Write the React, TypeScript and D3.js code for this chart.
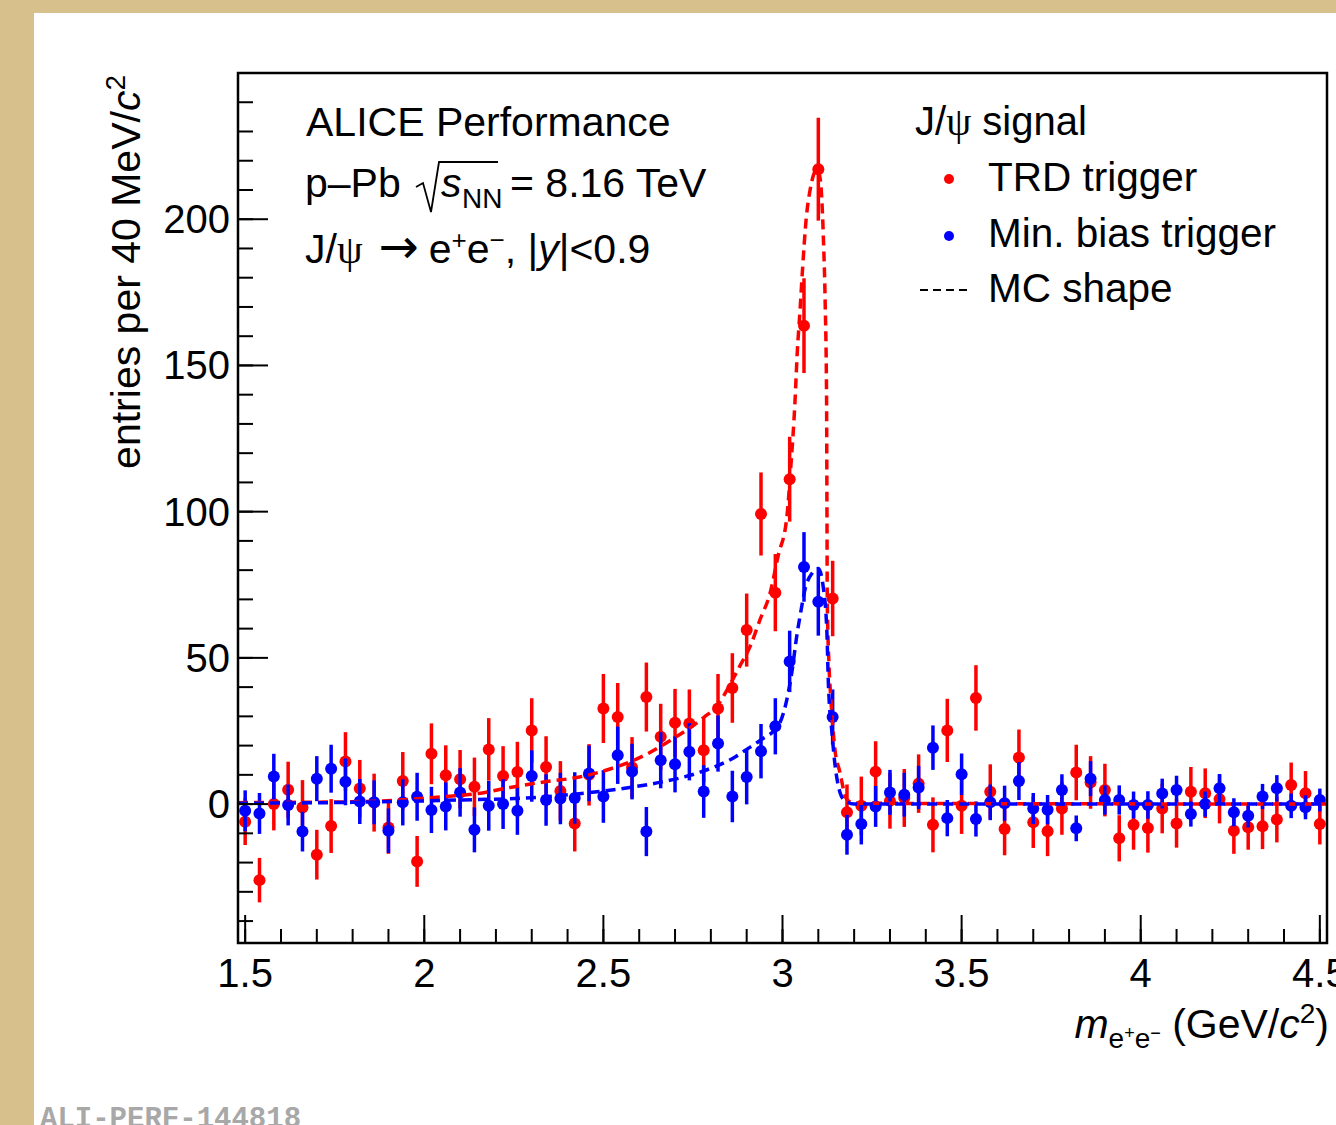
import React from 'react';
import * as d3 from 'd3';

// invariant mass histogram, 40 MeV bins from 1.48 to 4.52 GeV/c2
const BIN_LO = 1.48;
const BIN_W = 0.04;

// TRD triggered sample (red)
const trdCounts = [
  -6, -26, 0, 4.9, -1.2, -17.3, -7.5, 14.6, 5.3, 0.5,
  -8, 7.9, -19.6, 17.2, 9.9, 8.5, 5.9, 18.7, 9.6, 11,
  25.2, 12.7, 4.5, -6.6, 10, 32.7, 29.8, 12.5, 36.6, 23,
  27.8, 27.6, 18.4, 32.7, 39.7, 59.5, 99.2, 72.3, 111.1, 163.6,
  217.1, 70.3, -2.8, -0.6, 11.1, 1.1, 2.1, 7, -7.1, 25.2,
  -0.6, 36.3, 4.2, -8.5, 15.9, -6.2, -9.3, -1.5, 10.8, 7.4,
  4.8, -11.7, -7.1, -8.2, -1.5, -6.6, 4.2, 3.7, 1.7, -9.1,
  -7.9, -7.6, -5.3, 6.5, 3.7, -6.8,
];
const trdErrors = [
  8, 7.6, 9, 9.6, 9.4, 8.5, 9.2, 10, 9.8, 9.9,
  9, 9.9, 8.7, 10.4, 10.2, 10, 10, 10.7, 10.2, 10.3,
  11, 10.5, 10.2, 9.6, 10.5, 11.8, 11.6, 10.4, 11.8, 11.3,
  11.6, 11.6, 10.9, 11.8, 11.9, 12.5, 14.2, 13.2, 14.5, 16.2,
  17.6, 12.9, 9.5, 10, 10.4, 9.5, 9.9, 10, 9.4, 10.8,
  9.6, 11.2, 9.4, 9, 9.6, 8.8, 8.5, 9, 9.5, 9,
  9, 7.9, 8.5, 8.4, 8.5, 8.3, 8.5, 8.5, 8.3, 7.9,
  7.7, 7.8, 7.8, 7.7, 7.6, 7,
];

// minimum bias sample (blue)
const mbCounts = [
  -2.3, -3.2, 9.4, -0.3, -9.4, 8.7, 12.1, 7.6, 0.9, 0.6,
  -9.1, 0.6, 2.5, -2, -0.8, 4, -8.8, -0.6, 0, -2.3,
  9.6, 1.4, 1.9, 2.1, 10.5, 2.6, 16.7, 11.1, -9.4, 15,
  13.6, 17.9, 4.3, 20.7, 2.6, 9.3, 18.1, 26.6, 48.8, 81.1,
  69.2, 29.8, -10.5, -6.8, -0.8, 4, 3.2, 5.7, 19.3, -4.8,
  10.2, -5.1, 0.6, 0.3, 7.9, -1.5, -1.9, 4.8, -8.3, 8.7,
  1.4, 1.4, -0.3, -0.3, 3.6, 4.8, -3.4, 0, 5.4, -2.8,
  -4, 2.6, 5.4, -0.6, -1.1, 1.4,
];
const mbErrors = [
  7, 7, 7.8, 7, 6.8, 7.7, 8.2, 8, 7.7, 7.5,
  7.6, 7.9, 8.2, 7.9, 8.2, 8.3, 7.7, 8.5, 8.5, 8.2,
  8.8, 8.8, 8.8, 8.8, 9.5, 9, 9.8, 9.5, 8.4, 9.6,
  9.6, 9.8, 9, 9.6, 8.8, 9.4, 9.3, 9.6, 10.5, 11.9,
  11.6, 9.4, 6.8, 7, 7, 7.7, 7.5, 7.4, 7.6, 6.2,
  7.1, 6, 6.1, 6, 6.5, 5.3, 5, 5.4, 4.4, 6,
  5, 5, 4.6, 4.7, 5.1, 4.9, 4.3, 4.3, 4.9, 4.8,
  4, 4.3, 4.5, 4.2, 4.1, 3.9,
];

// MC line shapes
const trdMcMass = [
  1.48, 1.8, 1.97, 2.05, 2.15, 2.24, 2.33, 2.43, 2.5, 2.62,
  2.69, 2.78, 2.82, 2.845, 2.88, 2.91, 2.937, 2.965, 2.988, 3.012,
  3.023, 3.035, 3.041, 3.049, 3.056, 3.066, 3.077, 3.097, 3.105, 3.114,
  3.119, 3.123, 3.124, 3.125, 3.13, 3.135, 3.146, 3.16, 3.179, 3.2,
  4.52,
];
const trdMcShape = [
  0.5, 0.8, 1.7, 2.5, 3.6, 5.7, 7.5, 9.2, 11.3, 17,
  22, 29.6, 34, 39, 47, 54, 63, 72, 85, 98,
  115, 138, 154, 169, 183, 200, 210, 217, 214, 194,
  172, 139, 104, 70, 47, 36, 19, 11, 1.7, 0.3,
  0,
];
const mbMcMass = [
  1.48, 1.8, 2.0, 2.1, 2.3, 2.42, 2.54, 2.66, 2.77, 2.87,
  2.9, 2.94, 2.99, 3.016, 3.026, 3.041, 3.05, 3.064, 3.083, 3.1,
  3.114, 3.124, 3.128, 3.138, 3.147, 3.17, 3.2, 4.52,
];
const mbMcShape = [
  0.3, 0.6, 1.1, 1.4, 2.2, 3.4, 5.1, 7.5, 10.9, 16.3,
  18.7, 22, 27.2, 38, 45, 58.5, 65, 74, 79, 80.6,
  74, 58.5, 41.5, 24.5, 13, 1.7, 0, 0,
];

const xTicks = [1.5, 2, 2.5, 3, 3.5, 4, 4.5];
const xTickLabels = ['1.5', '2', '2.5', '3', '3.5', '4', '4.5'];
const yTicks = [0, 50, 100, 150, 200];
const yTickLabels = ['0', '50', '100', '150', '200'];

const RED = '#ff0000';
const BLUE = '#0000ff';
const FONT = '"Liberation Sans", Arial, Helvetica, sans-serif';
const SYMBOL = '"Liberation Serif", "DejaVu Serif", serif';
const ARROW = '"DejaVu Sans", sans-serif';

const W = 1336;
const H = 1125;
const frame = { left: 238, right: 1327, top: 73, bottom: 943 };

function App() {
  const x = d3.scaleLinear().domain([1.48, 4.52]).range([frame.left, frame.right]);
  const y = d3.scaleLinear().domain([-47.5, 250]).range([frame.bottom, frame.top]);

  const center = (i: number) => BIN_LO + BIN_W * (i + 0.5);

  const mcLine = d3
    .line<[number, number]>()
    .x((d) => x(d[0]))
    .y((d) => y(d[1]))
    .curve(d3.curveMonotoneX);

  const trdMc = trdMcMass.map((m, i) => [m, trdMcShape[i]] as [number, number]);
  const mbMc = mbMcMass.map((m, i) => [m, mbMcShape[i]] as [number, number]);

  const xMinor = d3.range(15, 46).map((v) => v / 10);
  const yMinor = d3.range(-4, 25).map((v) => v * 10);

  const points = (counts: number[], errs: number[], color: string) =>
    counts.map((v, i) => {
      const cx = x(center(i));
      return (
        <g key={color + i}>
          <line
            x1={cx}
            x2={cx}
            y1={y(v - errs[i])}
            y2={y(v + errs[i])}
            stroke={color}
            strokeWidth={3.5}
          />
          <circle cx={cx} cy={y(v)} r={6} fill={color} />
        </g>
      );
    });

  return (
    <div style={{ position: 'absolute', left: 0, top: 0 }}>
      <svg width={W} height={H} style={{ display: 'block' }} fontFamily={FONT}>
        <rect x={0} y={0} width={W} height={H} fill="#d8c08c" />
        <rect x={34} y={13} width={W - 34} height={H - 13} fill="#ffffff" />

        {/* data */}
        {points(trdCounts, trdErrors, RED)}
        {points(mbCounts, mbErrors, BLUE)}

        {/* MC shapes */}
        <path d={mcLine(trdMc) || ''} fill="none" stroke={RED} strokeWidth={3.5} strokeDasharray="10,6" />
        <path d={mcLine(mbMc) || ''} fill="none" stroke={BLUE} strokeWidth={3.5} strokeDasharray="10,6" />

        {/* frame */}
        <rect
          x={frame.left}
          y={frame.top}
          width={frame.right - frame.left}
          height={frame.bottom - frame.top}
          fill="none"
          stroke="#000"
          strokeWidth={2.5}
        />

        {/* x axis ticks */}
        {xMinor.map((v) => (
          <line key={'xm' + v} x1={x(v)} x2={x(v)} y1={frame.bottom} y2={frame.bottom - 14} stroke="#000" strokeWidth={2} />
        ))}
        {xTicks.map((v) => (
          <line key={'xM' + v} x1={x(v)} x2={x(v)} y1={frame.bottom} y2={frame.bottom - 28} stroke="#000" strokeWidth={2} />
        ))}
        {xTicks.map((v, i) => (
          <text key={'xl' + v} x={x(v)} y={987} fontSize={40} textAnchor="middle">
            {xTickLabels[i]}
          </text>
        ))}

        {/* y axis ticks */}
        {yMinor.map((v) => (
          <line key={'ym' + v} x1={frame.left} x2={frame.left + 15} y1={y(v)} y2={y(v)} stroke="#000" strokeWidth={2} />
        ))}
        {yTicks.map((v) => (
          <line key={'yM' + v} x1={frame.left} x2={frame.left + 30} y1={y(v)} y2={y(v)} stroke="#000" strokeWidth={2} />
        ))}
        {yTicks.map((v, i) => (
          <text key={'yl' + v} x={230} y={y(v) + 14} fontSize={40} textAnchor="end">
            {yTickLabels[i]}
          </text>
        ))}

        {/* axis titles */}
        <text transform="translate(140,75) rotate(-90)" fontSize={41} textAnchor="end">
          entries per 40 MeV/<tspan fontStyle="italic">c</tspan>
          <tspan fontSize={28} dy={-15}>2</tspan>
        </text>
        <text x={1329} y={1038} fontSize={41} textAnchor="end">
          <tspan fontStyle="italic">m</tspan>
          <tspan fontSize={28} dy={10}>e</tspan>
          <tspan fontSize={18} dy={-9}>+</tspan>
          <tspan fontSize={28} dy={9}>e</tspan>
          <tspan fontSize={18} dy={-9}>−</tspan>
          <tspan dy={-1}> (GeV/</tspan>
          <tspan fontStyle="italic">c</tspan>
          <tspan fontSize={28} dy={-15}>2</tspan>
          <tspan dy={15}>)</tspan>
        </text>

        {/* labels */}
        <text x={306} y={136} fontSize={41}>ALICE Performance</text>
        <text x={305} y={197} fontSize={41}>p–Pb</text>
        <path d="M416 187 L423 183 L431 212 L439 162 L498 162" fill="none" stroke="#000" strokeWidth={1.8} />
        <text x={441} y={197} fontSize={41} fontStyle="italic">s</text>
        <text x={462} y={208} fontSize={28}>NN</text>
        <text x={510} y={197} fontSize={41}>= 8.16 TeV</text>
        <text x={305} y={263} fontSize={41}>
          J/<tspan fontFamily={SYMBOL}>ψ</tspan>
          <tspan fontFamily={ARROW} fontSize={48} dx={16}>→</tspan>
          <tspan dx={10}>e</tspan>
          <tspan fontSize={26} dy={-14}>+</tspan>
          <tspan dy={14}>e</tspan>
          <tspan fontSize={26} dy={-14}>−</tspan>
          <tspan dy={14}>, |</tspan>
          <tspan fontStyle="italic">y</tspan>|&lt;0.9
        </text>

        {/* legend */}
        <text x={915} y={135} fontSize={40}>
          J/<tspan fontFamily={SYMBOL}>ψ</tspan> signal
        </text>
        <circle cx={949} cy={179} r={5} fill={RED} />
        <text x={988} y={191} fontSize={40.5}>TRD trigger</text>
        <circle cx={949} cy={236} r={5} fill={BLUE} />
        <text x={988} y={247} fontSize={40.5}>Min. bias trigger</text>
        <line x1={920} x2={972} y1={290} y2={290} stroke="#000" strokeWidth={2} strokeDasharray="8,5" />
        <text x={988} y={302} fontSize={40.5}>MC shape</text>

        <text
          x={40}
          y={1127}
          fontSize={29}
          fontWeight="bold"
          fill="#a8a8a8"
          fontFamily='"Liberation Mono", "DejaVu Sans Mono", monospace'
        >
          ALI-PERF-144818
        </text>
      </svg>
    </div>
  );
}

export default App;
